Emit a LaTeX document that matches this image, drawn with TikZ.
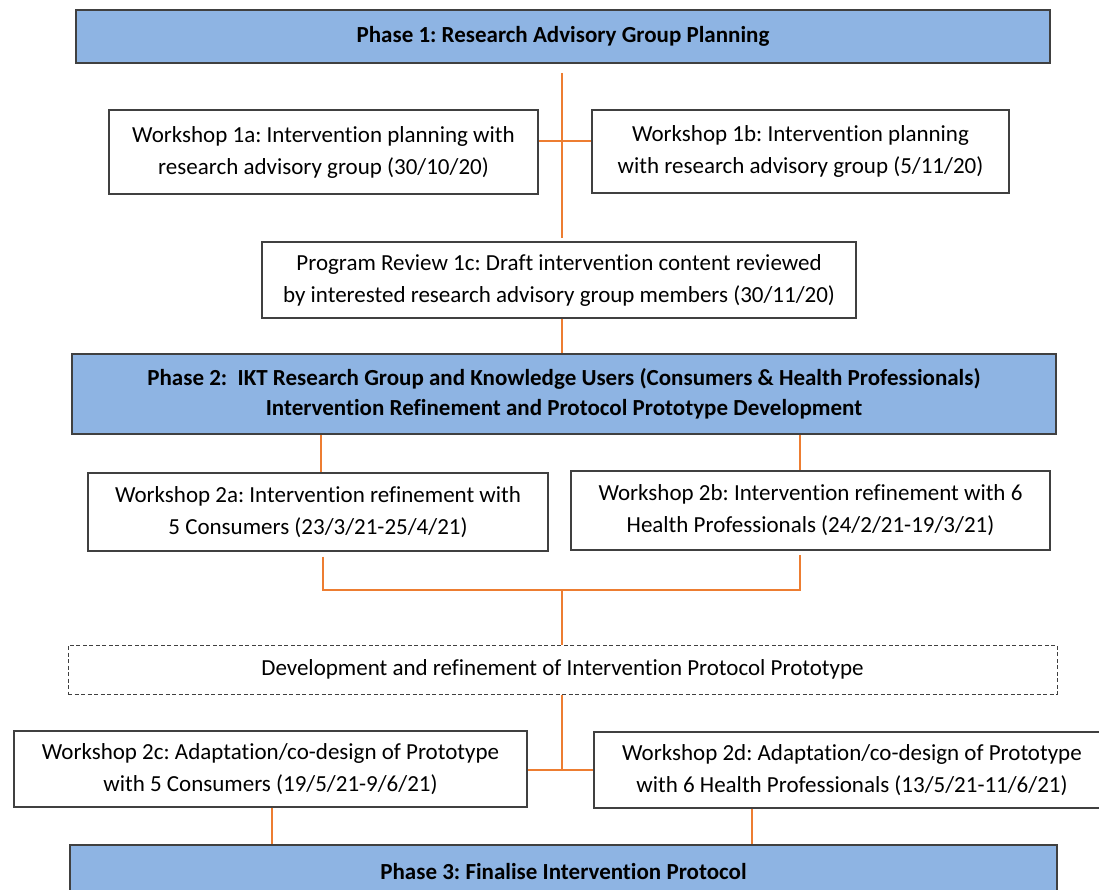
\documentclass[tikz,border=0pt]{standalone}
\usepackage{fontspec}
\setmainfont{Carlito}[Ligatures=NoCommon]
\usetikzlibrary{positioning,calc}
\definecolor{phaseblue}{HTML}{8EB4E3}
\definecolor{linkorange}{HTML}{ED7D31}
\definecolor{boxgray}{HTML}{404040}
\frenchspacing
\tikzstyle{phase} = [draw=boxgray, fill=phaseblue, rectangle, line width=1.5pt,
    align=center, font=\fontsize{23}{30}\selectfont\bfseries]
\tikzstyle{block} = [draw=boxgray, rectangle, line width=1.2pt, align=center]
\tikzstyle{dblock} = [block, line width=1pt, dash pattern=on 4pt off 2.5pt]
\tikzstyle{link} = [draw=linkorange, line width=2pt]

\begin{document}
\begin{tikzpicture}[x=1pt, y=-1pt, inner sep=0pt, font=\fontsize{23}{32}\selectfont]
    \clip (0,0) rectangle (1099,890);
    % We start by placing the phases and workshops
    \node [phase, minimum width=974pt, minimum height=53pt] (phase1) at (563,36.5)
        {Phase 1: Research Advisory Group Planning};
    \node [block, minimum width=429pt, minimum height=84pt] (ws1a) at (323.5,152)
        {Workshop 1a: Intervention planning with\\research advisory group (30/10/20)};
    \node [block, minimum width=417pt, minimum height=83pt] (ws1b) at (800.5,151.5)
        {Workshop 1b: Intervention planning\\with research advisory group (5/11/20)};
    \node [block, minimum width=594pt, minimum height=76pt] (review) at (559,280)
        {Program Review 1c: Draft intervention content reviewed\\by interested research advisory group members (30/11/20)};
    \node [phase, minimum width=984pt, minimum height=80pt] (phase2) at (564,394)
        {Phase 2:\ \ IKT Research Group and Knowledge Users (Consumers \& Health Professionals)\\Intervention Refinement and Protocol Prototype Development};
    \node [block, minimum width=460pt, minimum height=78pt] (ws2a) at (318,512)
        {Workshop 2a: Intervention refinement with\\5 Consumers (23/3/21-25/4/21)};
    \node [block, minimum width=479pt, minimum height=79pt] (ws2b) at (810.5,510.5)
        {Workshop 2b: Intervention refinement with 6\\Health Professionals (24/2/21-19/3/21)};
    \node [dblock, minimum width=989pt, minimum height=49pt] (dev) at (562.5,669.5)
        {Development and refinement of Intervention Protocol Prototype};
    \node [block, minimum width=513pt, minimum height=76pt] (ws2c) at (270.5,769)
        {Workshop 2c: Adaptation/co-design of Prototype\\with 5 Consumers (19/5/21-9/6/21)};
    \node [block, minimum width=516pt, minimum height=76pt] (ws2d) at (852,770)
        {Workshop 2d: Adaptation/co-design of Prototype\\with 6 Health Professionals (13/5/21-11/6/21)};
    \node [phase, minimum width=987pt, minimum height=53pt] (phase3) at (563.5,871.5)
        {Phase 3: Finalise Intervention Protocol};
    % Junctions of the orange lines
    \coordinate (top) at (562,73);
    \coordinate (cross) at (562,141);
    \coordinate (join) at (562,590);
    \coordinate (split) at (562,770);
    % Once the nodes are placed, connecting them is easy.
    \draw [link] (top) -- ([yshift=3pt]top |- review.north);
    \draw [link] (ws1a.east |- cross) -- (ws1b.west |- cross);
    \draw [link] (review.south -| top) -- (phase2.north -| top);
    \draw [link] ([xshift=3pt]ws2a.north |- phase2.south) -- ([xshift=3pt]ws2a.north);
    \draw [link] ([xshift=-10.5pt]ws2b.north |- phase2.south) -- ([xshift=-10.5pt]ws2b.north);
    \draw [link] ([xshift=5pt,yshift=-5pt]ws2a.south) |- (join) -| ([xshift=-10.5pt,yshift=-4pt]ws2b.south);
    \draw [link] (join) -- (dev.north -| join);
    \draw [link] (dev.south -| split) -- (split);
    \draw [link] (ws2c.east |- split) -- (ws2d.west |- split);
    \draw [link] ([xshift=1.5pt]ws2c.south) -- ([xshift=1.5pt]ws2c.south |- phase3.north);
    \draw [link] ([xshift=-100pt]ws2d.south) -- ([xshift=-100pt]ws2d.south |- phase3.north);
\end{tikzpicture}
\end{document}
